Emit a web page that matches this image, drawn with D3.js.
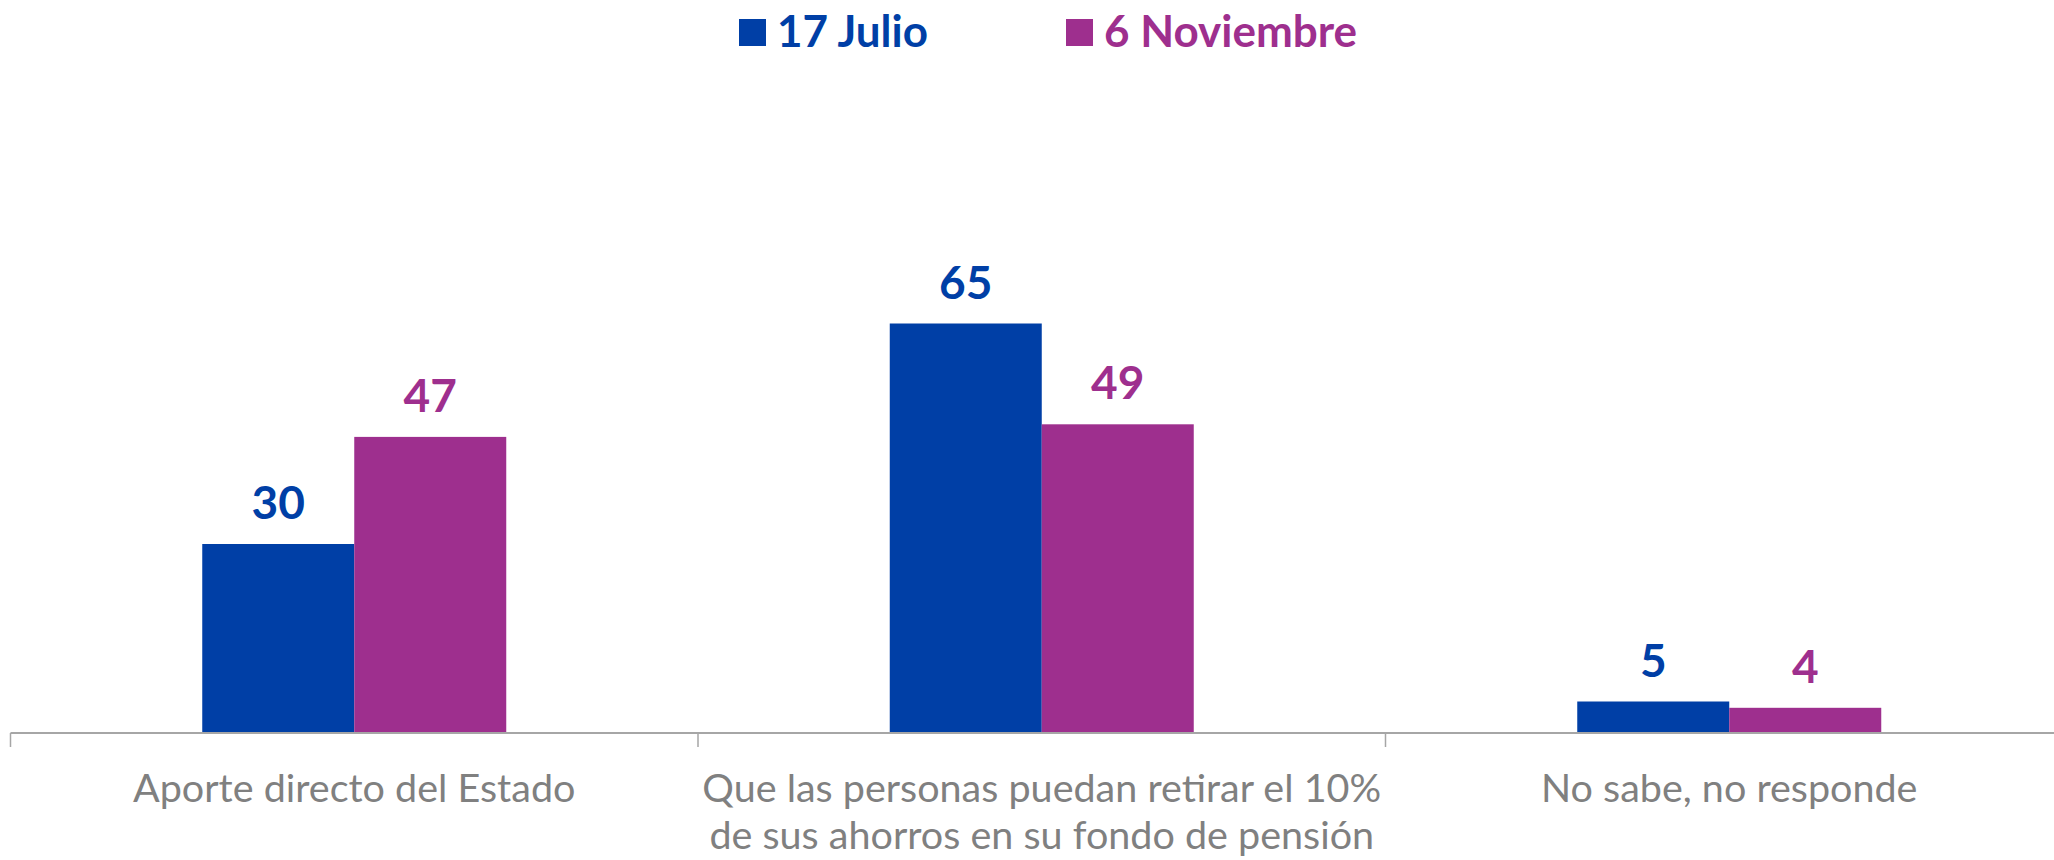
<!DOCTYPE html>
<html>
<head>
<meta charset="utf-8">
<title>17 Julio vs 6 Noviembre</title>
<script src="https://cdn.jsdelivr.net/npm/d3@7"></script>
<style>
  body { margin: 0; background: #fff; }
  svg { display: block; }
  .cat { font-family: Lato, "Open Sans", sans-serif; fill: #808080; }
  .val, .leg { font-family: Lato, "Open Sans", sans-serif; font-weight: bold; }
</style>
</head>
<body>
<script>

// data
var categories = ["Aporte directo del Estado",
                  "Que las personas puedan retirar el 10% de sus ahorros en su fondo de pensión",
                  "No sabe, no responde"];
var categoryLines = [["Aporte directo del Estado"],
                     ["Que las personas puedan retirar el 10%", "de sus ahorros en su fondo de pensión"],
                     ["No sabe, no responde"]];
var series = ["17 Julio", "6 Noviembre"];
var julio = [30, 65, 5];
var noviembre = [47, 49, 4];

var colors = {"17 Julio": "#003fa6", "6 Noviembre": "#9e2f8e"};

var width = 2054, height = 860;
var baseY = 733;

var svg = d3.select("body").append("svg")
  .attr("width", width)
  .attr("height", height);

var x0 = d3.scaleBand().domain(categories).range([10.5, 2073]);
var x1 = d3.scaleBand().domain(series).range([191.75, 495.75]);
var y = d3.scaleLinear().domain([0, 70]).range([baseY, 292]);

var rows = categories.map(function(c, i) {
  return {cat: c, lines: categoryLines[i], vals: [
    {s: "17 Julio", v: julio[i]},
    {s: "6 Noviembre", v: noviembre[i]}
  ]};
});

var group = svg.append("g").selectAll("g")
  .data(rows)
  .enter().append("g")
  .attr("transform", function(d) { return "translate(" + x0(d.cat) + ",0)"; });

group.selectAll("rect")
  .data(function(d) { return d.vals; })
  .enter().append("rect")
  .attr("x", function(d) { return x1(d.s); })
  .attr("y", function(d) { return y(d.v); })
  .attr("width", x1.bandwidth())
  .attr("height", function(d) { return baseY - y(d.v); })
  .attr("fill", function(d) { return colors[d.s]; });

group.selectAll("text.val")
  .data(function(d) { return d.vals; })
  .enter().append("text")
  .attr("class", "val")
  .attr("x", function(d) { return x1(d.s) + x1.bandwidth() / 2; })
  .attr("y", function(d) { return y(d.v) - 25; })
  .attr("text-anchor", "middle")
  .style("font-size", "46px")
  .style("fill", function(d) { return colors[d.s]; })
  .text(function(d) { return d.v; });

// axis line + separators
var axis = svg.append("g");
axis.append("line")
  .attr("x1", x0.range()[0]).attr("x2", width)
  .attr("y1", baseY).attr("y2", baseY)
  .attr("stroke", "#a6a6a6").attr("stroke-width", 2);
axis.selectAll("line.tick")
  .data(categories)
  .enter().append("line")
  .attr("x1", function(d) { return x0(d); })
  .attr("x2", function(d) { return x0(d); })
  .attr("y1", baseY).attr("y2", baseY + 14)
  .attr("stroke", "#a6a6a6").attr("stroke-width", 1.5);

// category labels
var labels = svg.append("g").selectAll("text")
  .data(rows)
  .enter().append("text")
  .attr("class", "cat")
  .attr("text-anchor", "middle")
  .attr("x", function(d) { return x0(d.cat) + x0.bandwidth() / 2; })
  .attr("y", 802)
  .style("font-size", "39.5px");
labels.selectAll("tspan")
  .data(function(d) { return d.lines; })
  .enter().append("tspan")
  .attr("x", function() { return this.parentNode.getAttribute("x"); })
  .attr("dy", function(d, i) { return i === 0 ? 0 : 47; })
  .text(function(d) { return d; });

// legend
var legendX = [739, 1066];
var legend = svg.append("g").selectAll("g")
  .data(series)
  .enter().append("g")
  .attr("transform", function(d, i) { return "translate(" + legendX[i] + ",19)"; });
legend.append("rect")
  .attr("width", 27).attr("height", 27)
  .attr("fill", function(d) { return colors[d]; });
legend.append("text")
  .attr("class", "leg")
  .attr("x", 38).attr("y", 28)
  .style("font-size", "44px")
  .style("fill", function(d) { return colors[d]; })
  .text(function(d) { return d; });

</script>
</body>
</html>
